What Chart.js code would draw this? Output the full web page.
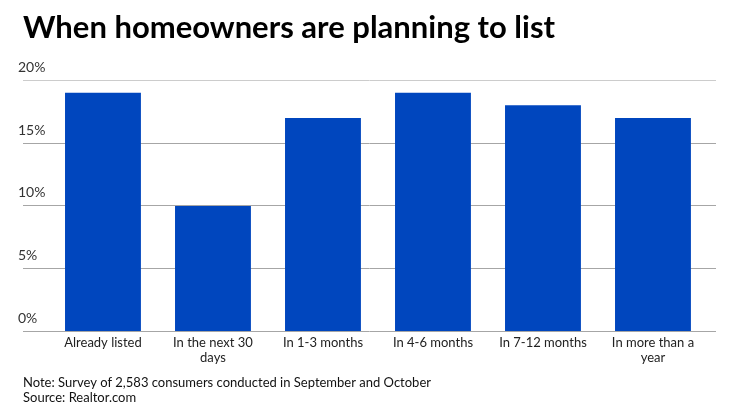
<!DOCTYPE html>
<html>
<head>
<meta charset="utf-8">
<script src="https://cdn.jsdelivr.net/npm/chart.js@4.4.1/dist/chart.umd.min.js"></script>
<style>
  html, body { margin: 0; padding: 0; background: #ffffff; }
  #wrap { width: 740px; height: 416px; position: relative; }
</style>
</head>
<body>
<div id="wrap"><canvas id="grafico"></canvas></div>
<script>
// dados do grafico
var categorias = [
    'Already listed',
    ['In the next 30', 'days'],
    'In 1-3 months',
    'In 4-6 months',
    'In 7-12 months',
    ['In more than a', 'year']
];
var valores = [19, 10, 17, 19, 18, 17];
var ticksY = [0, 5, 10, 15, 20];

var titulo = 'When homeowners are planning to list';
var nota = [
    'Note: Survey of 2,583 consumers conducted in September and October',
    'Source: Realtor.com'
];

var pontos = [];
for (var i = 0; i < valores.length; i++) {
    pontos.push({ x: i, y: valores[i] });
}

Chart.defaults.font.family = 'Lato';
Chart.defaults.color = '#222222';

var grafico = new Chart(document.getElementById('grafico'), {
    type: 'bar',
    data: {
        datasets: [{
            label: 'Share',
            data: pontos,
            backgroundColor: '#0046be',
            borderWidth: 0,
            barPercentage: 0.69,
            categoryPercentage: 1
        }]
    },
    options: {
        responsive: true,
        maintainAspectRatio: false,
        animation: false,
        layout: {
            autoPadding: false,
            padding: { left: 23, right: 24, top: 0, bottom: 10 }
        },
        plugins: {
            legend: { display: false },
            tooltip: { enabled: false },
            title: {
                display: true,
                text: titulo,
                align: 'start',
                color: '#000000',
                font: { size: 31, weight: 'bold' },
                padding: { top: 9, bottom: 34 }
            },
            subtitle: {
                display: true,
                position: 'bottom',
                text: nota,
                align: 'start',
                color: '#111111',
                font: { size: 13 },
                padding: { top: 6, bottom: 0 }
            }
        },
        scales: {
            x: {
                type: 'linear',
                offset: false,
                min: -0.727,
                max: 5.573,
                grid: { display: false, drawTicks: false },
                border: { display: false },
                ticks: {
                    stepSize: 1,
                    includeBounds: false,
                    autoSkip: false,
                    maxRotation: 0,
                    padding: 3,
                    font: { size: 13 },
                    color: '#222222',
                    callback: function (v) {
                        return categorias[v];
                    }
                }
            },
            y: {
                min: 0,
                max: 20,
                afterBuildTicks: function (escala) {
                    escala.ticks = ticksY.map(function (v) { return { value: v }; });
                },
                // eixo sem largura, rotulos ficam por cima das linhas
                afterFit: function (escala) {
                    escala.width = 0;
                },
                grid: {
                    color: function (ctx) {
                        return ctx.tick && ctx.tick.value === 20 ? '#cccccc' : '#a6a6a6';
                    },
                    lineWidth: 1,
                    drawTicks: false
                },
                border: { display: false },
                ticks: {
                    mirror: true,
                    padding: -5,
                    labelOffset: -13,
                    font: { size: 14 },
                    color: '#333333',
                    callback: function (v) {
                        return v + '%';
                    }
                }
            }
        }
    }
});
</script>
</body>
</html>
